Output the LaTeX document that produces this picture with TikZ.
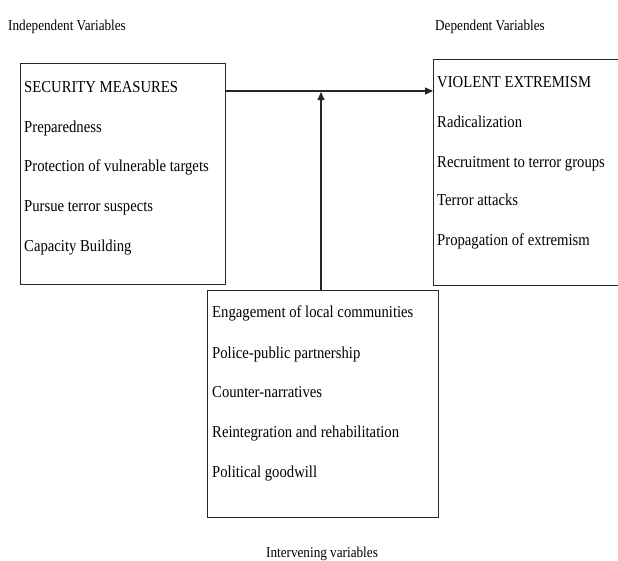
\documentclass[tikz,border=0pt]{standalone}
\usepackage{fontspec}
\setmainfont[FakeStretch=0.88]{Liberation Serif}
\usetikzlibrary{arrows.meta,calc}
\tikzset{
  box/.style={draw=black!85, line width=1.1pt, anchor=north west, inner sep=0pt},
  item/.style={anchor=base west, inner sep=0pt, font=\fontsize{16.7}{20}\selectfont},
  lbl/.style={anchor=base west, inner sep=0pt, font=\fontsize{15}{18}\selectfont},
  arr/.style={draw=black!85, line width=1.1pt, -{Triangle[length=8pt,width=7pt]}}
}
\begin{document}
\begin{tikzpicture}[x=1pt,y=-1pt]
\path[use as bounding box, clip] (0,0) rectangle (618,560);
\fill[white] (0,0) rectangle (618,560);
% labels
\node[lbl] (indep) at (8,30) {Independent Variables};
\node[lbl] (dep) at (435,30) {Dependent Variables};
\node[lbl, anchor=base] (interv) at (322,557) {Intervening variables};
% boxes
\node[box, minimum width=205pt, minimum height=221pt] (L) at (20,63) {};
\node[box, minimum width=200pt, minimum height=226pt] (R) at (433,59) {};
\node[box, minimum width=231pt, minimum height=227pt] (M) at (207,290) {};
% left texts
\node[item] (l1) at (24,92.5) {SECURITY MEASURES};
\node[item] (l2) at (24,132) {Preparedness};
\node[item] (l3) at (24,171) {Protection of vulnerable targets};
\node[item] (l4) at (24,211) {Pursue terror suspects};
\node[item] (l5) at (24,251) {Capacity Building};
% right texts
\node[item] (r1) at (437,87) {VIOLENT EXTREMISM};
\node[item] (r2) at (437,127) {Radicalization};
\node[item] (r3) at (437,167) {Recruitment to terror groups};
\node[item] (r4) at (437,205) {Terror attacks};
\node[item] (r5) at (437,245) {Propagation of extremism};
% middle texts
\node[item] (m1) at (212,317) {Engagement of local communities};
\node[item] (m2) at (212,358) {Police-public partnership};
\node[item] (m3) at (212,397) {Counter-narratives};
\node[item] (m4) at (212,437) {Reintegration and rehabilitation};
\node[item] (m5) at (212,477) {Political goodwill};
% connectors
\coordinate (hy) at (0,91);
\coordinate (vx) at (321,0);
\coordinate (vt) at (321,92);
\draw[arr] (L.east |- hy) -- (R.west |- hy);
\draw[arr] (M.north -| vx) -- (vt);
\end{tikzpicture}
\end{document}
